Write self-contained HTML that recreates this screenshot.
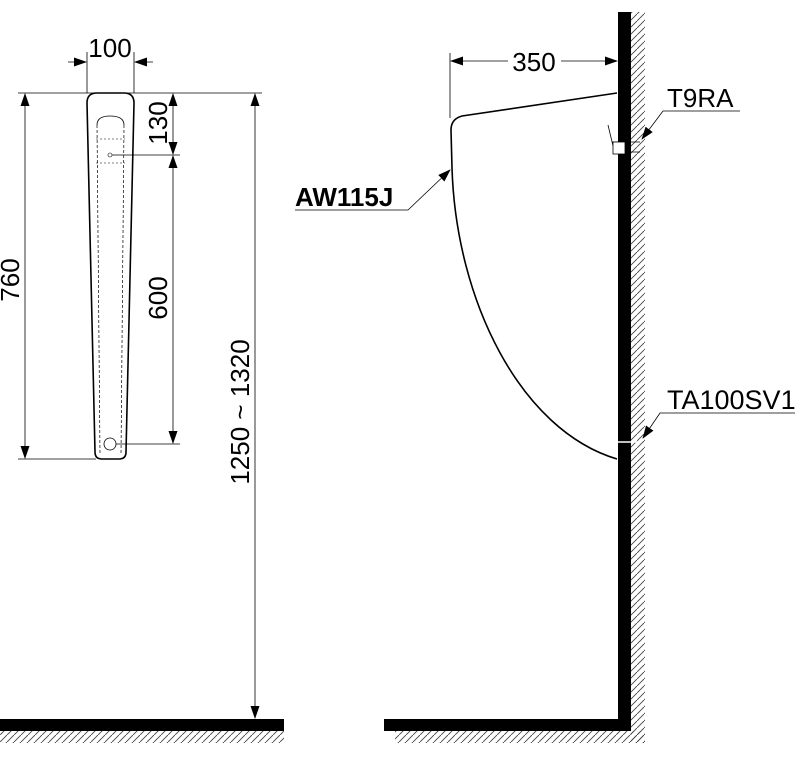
<!DOCTYPE html>
<html><head><style>html,body{margin:0;padding:0;background:#fff;}svg{display:block}</style></head>
<body>
<svg width="800" height="767" viewBox="0 0 800 767" xmlns="http://www.w3.org/2000/svg" font-family="Liberation Sans, sans-serif">
<defs>
<pattern id="h" width="7" height="7" patternUnits="userSpaceOnUse">
<line x1="0" y1="7" x2="7" y2="0" stroke="#444" stroke-width="0.9"/>
</pattern>
<marker id="a" markerWidth="13" markerHeight="9" refX="12" refY="4.5" orient="auto" markerUnits="userSpaceOnUse">
<path d="M0,0 L13,4.5 L0,9 Z" fill="#000"/>
</marker>
</defs>
<rect x="0" y="719" width="284" height="12" fill="#000"/>
<rect x="0" y="731" width="284" height="12" fill="url(#h)"/>
<rect x="384" y="719" width="247" height="12" fill="#000"/>
<rect x="618" y="12" width="13" height="719" fill="#000"/>
<rect x="631" y="12" width="14" height="731" fill="url(#h)"/>
<rect x="395" y="731" width="250" height="12" fill="url(#h)"/>

<g stroke="#000" fill="none">
<path d="M87,103 Q87,93 97,93 L124,93 Q134,93 134,103 L126,452 Q126,459 119,459 L102,459 Q95,459 95,452 Z" stroke-width="1.6"/>
<path d="M97,125 L100,455 M124,125 L121,455" stroke-width="0.7" stroke-dasharray="3,2"/>
<path d="M97,125 Q97,116 110,116 Q124,116 124,125" stroke-width="0.8"/>
<path d="M96,139 H125 M96,163 H125" stroke-width="0.6" stroke-dasharray="2,2"/>
<circle cx="110" cy="444" r="6" stroke-width="0.8"/>
<circle cx="110" cy="155" r="2" stroke-width="0.6"/>
<g stroke-width="0.8">
<line x1="18" y1="93" x2="262" y2="93"/>
<line x1="18" y1="459" x2="96" y2="459"/>
<line x1="112" y1="155" x2="180" y2="155"/>
<line x1="116" y1="444" x2="180" y2="444"/>
<line x1="87" y1="52" x2="87" y2="93"/>
<line x1="134" y1="52" x2="134" y2="93"/>
<line x1="68" y1="62" x2="86" y2="62" marker-end="url(#a)"/>
<line x1="153" y1="62" x2="135" y2="62" marker-end="url(#a)"/>
<line x1="25" y1="276" x2="25" y2="94" marker-end="url(#a)"/>
<line x1="25" y1="276" x2="25" y2="458" marker-end="url(#a)"/>
<line x1="173" y1="124" x2="173" y2="94" marker-end="url(#a)"/>
<line x1="173" y1="124" x2="173" y2="154" marker-end="url(#a)"/>
<line x1="173" y1="300" x2="173" y2="156" marker-end="url(#a)"/>
<line x1="173" y1="300" x2="173" y2="443" marker-end="url(#a)"/>
<line x1="255" y1="400" x2="255" y2="94" marker-end="url(#a)"/>
<line x1="255" y1="400" x2="255" y2="718" marker-end="url(#a)"/>
<line x1="450" y1="53" x2="450" y2="118"/>
<line x1="508" y1="61" x2="451" y2="61" marker-end="url(#a)"/>
<line x1="561" y1="61" x2="617" y2="61" marker-end="url(#a)"/>
</g>
<path d="M617,93 L462,116 Q451,119 451,130 L452,168 C456,300 520,430 617,459" stroke-width="1.6"/>
<path d="M608,125 L614,150 M612,142 H640 M614,152 H640" stroke-width="0.8"/>
<rect x="613" y="142" width="12" height="12" stroke-width="0.8" fill="#fff"/>
<line x1="613" y1="442" x2="640" y2="442" stroke="#fff" stroke-width="1.5"/>
<g stroke-width="0.8">
<path d="M295,210 H408 L450,170" marker-end="url(#a)"/>
<path d="M740,111 H663 L642,139" marker-end="url(#a)"/>
<path d="M795,413 H660 L643,438" marker-end="url(#a)"/>
</g>
</g>
<g fill="#000" font-size="26">
<text x="110" y="57" text-anchor="middle">100</text>
<text x="534" y="71" text-anchor="middle">350</text>
<text x="667" y="107" font-size="26">T9RA</text>
<text x="667" y="409" font-size="27">TA100SV1</text>
<text x="295" y="206" font-weight="bold" font-size="26">AW115J</text>
<text transform="translate(19,280) rotate(-90)" text-anchor="middle">760</text>
<text transform="translate(167,123) rotate(-90)" text-anchor="middle">130</text>
<text transform="translate(167,298) rotate(-90)" text-anchor="middle">600</text>
<text transform="translate(249,412) rotate(-90)" text-anchor="middle">1250 ~ 1320</text>
</g>
</svg>
</body></html>
